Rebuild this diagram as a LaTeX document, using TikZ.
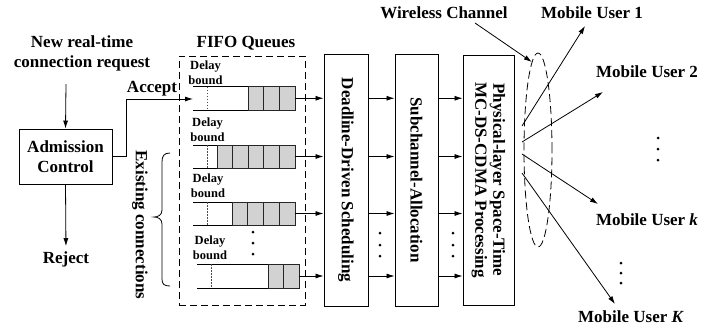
\documentclass[tikz,border=0pt]{standalone}
\usepackage{fontspec}
\setmainfont{Liberation Serif}
\usetikzlibrary{arrows.meta,shapes.geometric}
\definecolor{cellgray}{RGB}{210,210,210}
\begin{document}
\begin{tikzpicture}[x=1pt,y=-1pt,
  txt/.style={font=\fontsize{17}{20}\selectfont\bfseries, inner sep=0pt, align=center},
  smalltxt/.style={font=\fontsize{12.5}{15}\selectfont\bfseries, inner sep=0pt, align=center},
  box/.style={draw, line width=0.9pt, inner sep=0pt},
  arr/.style={-{Latex[length=8pt,width=5pt]}, line width=0.8pt},
  qline/.style={line width=0.9pt},
  cell/.style={fill=cellgray, draw=black!85, line width=0.8pt},
  dbound/.style={dash pattern=on 1.5pt off 1.5pt, line width=0.8pt, black!70},
  dashbox/.style={draw, line width=0.8pt, dash pattern=on 7pt off 4pt}
]
\useasboundingbox (0,0) rectangle (721,333);

% left part
\node[txt] (req) at (82,53) {New real-time\\connection request};
\coordinate (reqout) at (66,84);
\node[box, minimum width=93pt, minimum height=55pt, txt, draw] (adm) at (65.5,156.5) {Admission\\Control};
\node[txt] (rej) at (66,259) {Reject};
\draw[arr] (reqout) -- (adm.north);
\draw[arr, shorten >=5pt] (adm.south) -- (rej.north);
\node[txt] (acc) at (152,89) {Accept};
\coordinate (accbend) at (126,99);
\coordinate (q1in) at (193,99);
\draw[arr] (adm.east) -| (accbend) -- (q1in);

\node[txt, rotate=-90] (exist) at (140,225) {Existing connections};
\draw[line width=0.8pt] (170,153) .. controls (164,153) and (162,156) .. (162,162) -- (162,210)
  .. controls (162,215) and (158,217) .. (154,217)
  .. controls (158,217) and (162,219) .. (162,224) -- (162,279)
  .. controls (162,284) and (164,286) .. (170,286);

% FIFO box
\node[txt] (fifo) at (246,43) {FIFO Queues};
\node[dashbox, minimum width=126pt, minimum height=249pt, inner sep=0pt] (fifobox) at (242,180.5) {};

% queue 1
\draw[qline] (193,86.5) -- (295,86.5) (193,110) -- (295,110);
\draw[dbound] (207,86.5) -- (207,110);
\foreach \i in {0,1,2} \draw[cell] ({248+15.67*\i},86.5) rectangle +(15.67,23.5);
\node[smalltxt] (d1) at (205.5,72.5) {Delay\\bound};
\coordinate (q1) at (295,98.25);

% queue 2
\draw[qline] (193,145) -- (295,145) (193,168) -- (295,168);
\draw[dbound] (207,145) -- (207,168);
\foreach \i in {0,...,4} \draw[cell] ({217+15.6*\i},145) rectangle +(15.6,23);
\node[smalltxt] (d2) at (207.5,129.5) {Delay\\bound};
\coordinate (q2) at (295,156.5);

% queue 3
\draw[qline] (193,202) -- (295,202) (193,225) -- (295,225);
\draw[dbound] (207,202) -- (207,225);
\foreach \i in {0,...,3} \draw[cell] ({232+15.75*\i},202) rectangle +(15.75,23);
\node[smalltxt] (d3) at (208,185.5) {Delay\\bound};
\coordinate (q3) at (295,213.5);

\foreach \y in {232,243,254} \fill (253,\y) circle[radius=1.5];

% queue 4
\draw[qline] (197,264) -- (299,264) (197,288) -- (299,288);
\draw[dbound] (211,264) -- (211,288);
\foreach \i in {0,1} \draw[cell] ({268+15.5*\i},264) rectangle +(15.5,24);
\node[smalltxt] (d4) at (210,247.5) {Delay\\bound};
\coordinate (q4) at (299,276);

% processing boxes
\node[box, minimum width=44pt, minimum height=252pt] (dds) at (346,180) {};
\node[txt, rotate=-90] (ddsl) at (dds.center) {Deadline-Driven Scheduling};
\node[box, minimum width=43pt, minimum height=252pt] (sub) at (416.5,180) {};
\node[txt, rotate=-90] (subl) at (sub.center) {Subchannel-Allocation};
\node[box, minimum width=51pt, minimum height=250pt] (phy) at (488.5,180) {};
\node[txt, rotate=-90, font=\fontsize{17}{18}\selectfont\bfseries] (phyl) at (phy.center) {Physical-layer Space-Time\\MC-DS-CDMA Processing};

\foreach \q in {q1,q2,q3,q4} {
  \draw[arr] (\q) -- (\q -| dds.west);
  \draw[arr] (dds.east |- \q) -- (sub.west |- \q);
  \draw[arr] (sub.east |- \q) -- (phy.west |- \q);
}
\foreach \y in {233,245,256} {
  \fill (380,\y) circle[radius=1.5];
  \fill (453,\y) circle[radius=1.5];
}

% wireless channel
\node[draw, ellipse, line width=0.8pt, dash pattern=on 8pt off 4pt, minimum width=28pt, minimum height=194pt, inner sep=0pt] (ch) at (538,150) {};
\node[txt] (wc) at (444,13) {Wireless Channel};
\coordinate (wcs) at (475,23);
\draw[arr] (wcs) -- (ch.94);

% users
\node[txt] (u1) at (592,13) {Mobile User 1};
\node[txt] (u2) at (647,72) {Mobile User 2};
\node[txt] (uk) at (647,220) {Mobile User \textit{k}};
\node[txt] (uK) at (631,317) {Mobile User \textit{K}};
\coordinate (s1) at (522,126);
\coordinate (s2) at (522,142);
\coordinate (s3) at (522,154);
\coordinate (s4) at (522,173);
\coordinate (t1) at (585,26);
\coordinate (t2) at (603,92);
\coordinate (tk) at (598,204);
\coordinate (tK) at (615,304);
\draw[arr] (s1) -- (t1);
\draw[arr] (s2) -- (t2);
\draw[arr] (s3) -- (tk);
\draw[arr] (s4) -- (tK);
\foreach \y in {138,149,160} \fill (658,\y) circle[radius=1.5];
\foreach \y in {263,273,283} \fill (621,\y) circle[radius=1.5];
\end{tikzpicture}
\end{document}
